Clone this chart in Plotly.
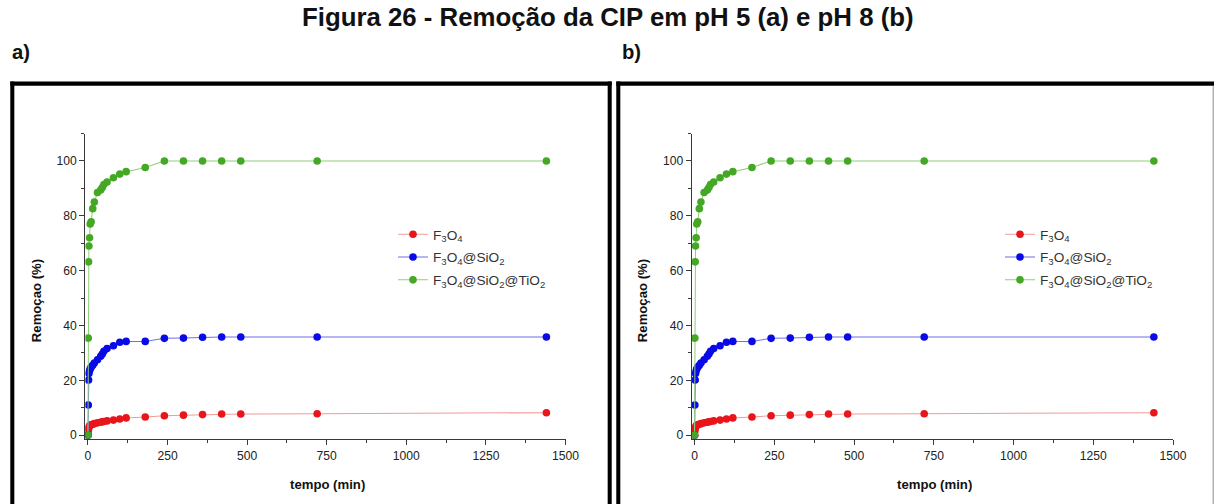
import plotly.graph_objects as go

# target picture size and a compensation factor for the capture scaling
TW, TH = 1214, 504
S = 1229 / 1214
W, H = round(TW * S), round(TH * S)

# ---------------- data ----------------
tempo = [0, 1, 2, 3, 5, 7, 10, 15, 20, 30, 40, 45, 50, 60, 80, 100, 120,
         180, 240, 300, 360, 420, 480, 720, 1440]

# pH 5 (a)
a_fe3o4 = [0, 1.5, 2.4, 3.0, 3.4, 3.6, 3.8, 4.0, 4.2, 4.5, 4.7, 4.9, 5.0, 5.2,
           5.5, 5.9, 6.3, 6.6, 7.1, 7.3, 7.5, 7.7, 7.7, 7.8, 8.2]
a_sio2 = [0, 11.0, 20.1, 22.5, 23.5, 24.2, 24.8, 25.5, 26.3, 27.5, 28.8, 29.6,
          30.6, 31.6, 32.6, 33.9, 34.2, 34.2, 35.3, 35.4, 35.7, 35.8, 35.8, 35.8, 35.8]
a_tio2 = [0, 35.4, 63.2, 69.0, 72.0, 77.0, 77.8, 82.6, 85.0, 88.5, 89.4, 90.3,
          91.4, 92.3, 93.9, 95.2, 96.1, 97.6, 100, 100, 100, 100, 100, 100, 100]

# pH 8 (b)
b_fe3o4 = [0, 1.5, 2.4, 3.0, 3.4, 3.6, 3.8, 4.0, 4.2, 4.5, 4.7, 4.9, 5.0, 5.2,
           5.5, 5.9, 6.3, 6.6, 7.1, 7.3, 7.5, 7.7, 7.7, 7.8, 8.2]
b_sio2 = [0, 11.0, 20.1, 22.5, 23.5, 24.2, 24.8, 25.5, 26.3, 27.5, 28.8, 29.6,
          30.6, 31.6, 32.6, 33.9, 34.2, 34.2, 35.3, 35.4, 35.7, 35.8, 35.8, 35.8, 35.8]
b_tio2 = [0, 35.4, 63.2, 69.0, 72.0, 77.0, 77.8, 82.6, 85.0, 88.5, 89.4, 90.3,
          91.4, 92.3, 93.9, 95.2, 96.1, 97.6, 100, 100, 100, 100, 100, 100, 100]

series_names = ["F<sub>3</sub>O<sub>4</sub>",
                "F<sub>3</sub>O<sub>4</sub>@SiO<sub>2</sub>",
                "F<sub>3</sub>O<sub>4</sub>@SiO<sub>2</sub>@TiO<sub>2</sub>"]
marker_colors = ["#e8161b", "#0a0ae6", "#45a825"]
line_colors = ["#f29a9a", "#6f6fe8", "#8fce78"]

x_ticks = [0, 250, 500, 750, 1000, 1250, 1500]
y_ticks = [0, 20, 40, 60, 80, 100]

FONT = "Liberation Sans, Arial, sans-serif"

def px_x(p):
    return p / TW

def px_y(p):
    return 1 - p / TH

def sz(v):
    return v * S

fig = go.Figure()

panels = [
    ("x", "y", "legend", [a_fe3o4, a_sio2, a_tio2]),
    ("x2", "y2", "legend2", [b_fe3o4, b_sio2, b_tio2]),
]
for xa, ya, leg, ys in panels:
    for i, vals in enumerate(ys):
        fig.add_trace(go.Scatter(
            x=tempo, y=vals, xaxis=xa, yaxis=ya, legend=leg,
            mode="lines+markers", name=series_names[i],
            legendgroup=f"{leg}_{i}",
            line=dict(color=line_colors[i], width=sz(1)),
            marker=dict(color=marker_colors[i], size=sz(7.5), line=dict(width=0)),
        ))

axis_common = dict(
    showgrid=False, zeroline=False, showline=True, linecolor="#3a3a3a",
    linewidth=sz(1.3), ticks="outside", ticklen=sz(5), tickwidth=sz(1.2),
    tickcolor="#3a3a3a", tickfont=dict(family=FONT, size=sz(12), color="#222"),
)
xax = dict(axis_common, range=[-8, 1500], tickmode="array", tickvals=x_ticks,
           minor=dict(ticks="outside", ticklen=sz(3), tickcolor="#3a3a3a", dtick=125, tick0=0))
yax = dict(axis_common, range=[-1.3, 110], tickmode="array", tickvals=y_ticks,
           minor=dict(ticks="outside", ticklen=sz(3), tickcolor="#3a3a3a", dtick=10, tick0=0))

y_dom = [px_y(437), px_y(133)]
legend_common = dict(xanchor="left", yanchor="top", bgcolor="rgba(0,0,0,0)",
                     borderwidth=0, tracegroupgap=sz(2),
                     font=dict(family=FONT, size=sz(13.5), color="#333"))
fig.update_layout(
    width=W, height=H,
    margin=dict(l=0, r=0, t=0, b=0),
    paper_bgcolor="white", plot_bgcolor="white",
    font=dict(family=FONT),
    xaxis=dict(xax, domain=[px_x(84.4), px_x(564.5)], anchor="y"),
    yaxis=dict(yax, domain=y_dom, anchor="x"),
    xaxis2=dict(xax, domain=[px_x(691), px_x(1172)], anchor="y2"),
    yaxis2=dict(yax, domain=y_dom, anchor="x2"),
    legend=dict(legend_common, x=px_x(392), y=px_y(218)),
    legend2=dict(legend_common, x=px_x(999), y=px_y(218)),
    showlegend=True,
)

annotations = [
    dict(text="<b>Figura 26 - Remoção da CIP em pH 5 (a) e pH 8 (b)</b>",
         x=px_x(607), y=px_y(17), size=25.5),
    dict(text="<b>a)</b>", x=px_x(9), y=px_y(52), xanchor="left", size=20),
    dict(text="<b>b)</b>", x=px_x(619), y=px_y(52), xanchor="left", size=20),
    dict(text="<b>Remoçao (%)</b>", x=px_x(35), y=px_y(300), textangle=-90, size=13),
    dict(text="<b>Remoçao (%)</b>", x=px_x(641), y=px_y(300), textangle=-90, size=13),
    dict(text="<b>tempo (min)</b>", x=px_x(326), y=px_y(483), size=13),
    dict(text="<b>tempo (min)</b>", x=px_x(933), y=px_y(483), size=13),
]
for a in annotations:
    a.setdefault("xanchor", "center")
    a["font"] = dict(family=FONT, size=sz(a.pop("size")), color="#111")
    a.update(xref="paper", yref="paper", yanchor="middle", showarrow=False)
fig.update_layout(annotations=annotations)

BLACK = dict(color="black", width=sz(4))
shapes = [
    # frame (a): left, top, right
    dict(type="line", x0=px_x(11.3), x1=px_x(11.3), y0=px_y(81.3), y1=px_y(503), line=BLACK),
    dict(type="line", x0=px_x(9.3), x1=px_x(610.7), y0=px_y(83.3), y1=px_y(83.3), line=BLACK),
    dict(type="line", x0=px_x(608.7), x1=px_x(608.7), y0=px_y(81.3), y1=px_y(503), line=BLACK),
    # frame (b): left, top
    dict(type="line", x0=px_x(617.3), x1=px_x(617.3), y0=px_y(81.3), y1=px_y(503), line=BLACK),
    dict(type="line", x0=px_x(615.3), x1=px_x(1213), y0=px_y(83.3), y1=px_y(83.3), line=BLACK),
    dict(type="line", x0=px_x(1212.3), x1=px_x(1212.3), y0=px_y(86), y1=px_y(503),
         line=dict(color="#b0b0b0", width=sz(1.5))),
]
for s in shapes:
    s.update(xref="paper", yref="paper", layer="above")
fig.update_layout(shapes=shapes)

fig.write_html("out.html")
